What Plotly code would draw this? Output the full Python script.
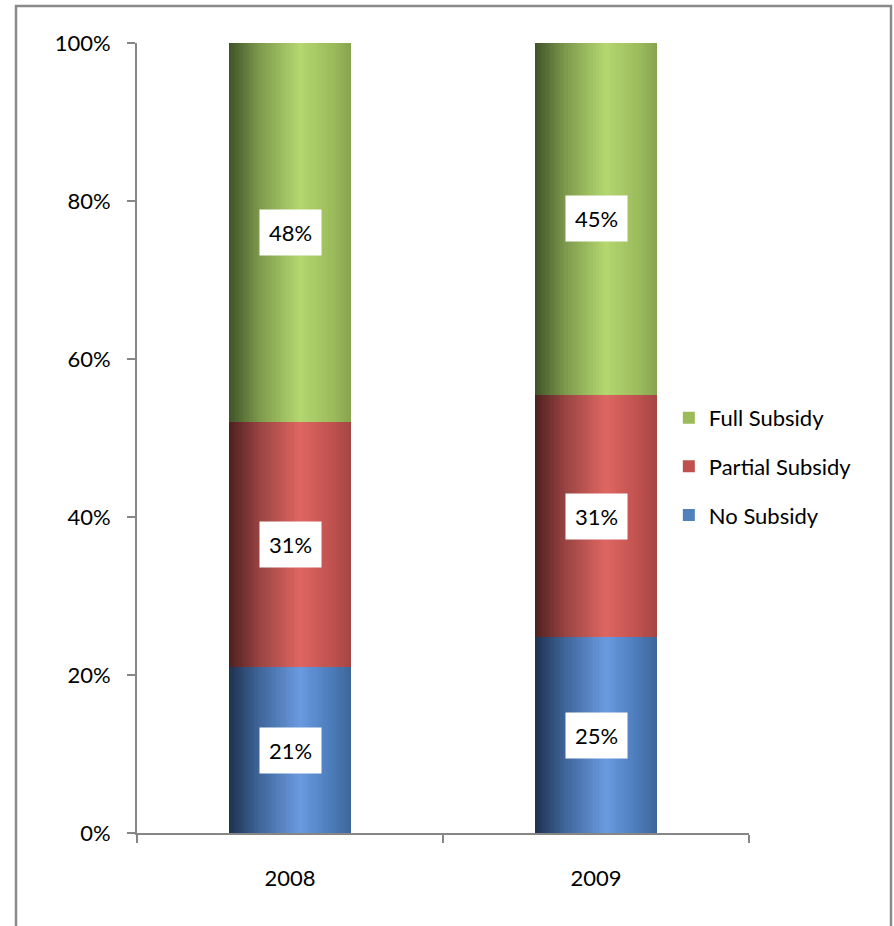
import plotly.graph_objects as go

# ---- data ----
years = ["2008", "2009"]
series_names = ["No Subsidy", "Partial Subsidy", "Full Subsidy"]
no_subsidy = [21, 25]
partial_subsidy = [31, 31]
full_subsidy = [48, 45]
y_ticks = [0, 20, 40, 60, 80, 100]
y_tick_labels = ["0%", "20%", "40%", "60%", "80%", "100%"]

series_values = [no_subsidy, partial_subsidy, full_subsidy]

# ---- styles ----
FONT = "Lato"
legend_colors = ["#4f81bd", "#c0504d", "#9bbb59"]
legend_ranks = [3, 2, 1]
gradient_stops = [
    [(0.0, "#1e3150"), (0.25, "#3f669a"), (0.58, "#6a9ae0"), (0.85, "#4a7ab8"), (1.0, "#3e6698")],
    [(0.0, "#4c1f1f"), (0.25, "#9a4442"), (0.58, "#df6662"), (0.85, "#be514e"), (1.0, "#a44542")],
    [(0.0, "#3f5229"), (0.25, "#7d9a4c"), (0.58, "#b4d770"), (0.85, "#9cbb5c"), (1.0, "#87a24f")],
]
BAR_W = 0.4
N_STRIPS = 48


def hex2rgb(h):
    h = h.lstrip("#")
    return tuple(int(h[i:i + 2], 16) for i in (0, 2, 4))


def interp(stops, t):
    for (t0, c0), (t1, c1) in zip(stops[:-1], stops[1:]):
        if t0 <= t <= t1:
            f = (t - t0) / (t1 - t0) if t1 > t0 else 0
            a, b = hex2rgb(c0), hex2rgb(c1)
            r = [round(a[k] + (b[k] - a[k]) * f) for k in range(3)]
            return f"rgb({r[0]},{r[1]},{r[2]})"
    return stops[-1][1]


xpos = list(range(len(years)))

# normalise to 100% per year
totals = [sum(v[i] for v in series_values) for i in range(len(years))]
norm = [[v[i] / totals[i] * 100 for i in range(len(years))] for v in series_values]
bases = []
cum = [0.0] * len(years)
for s in norm:
    bases.append(list(cum))
    cum = [cum[i] + s[i] for i in range(len(years))]

fig = go.Figure()

w = BAR_W / N_STRIPS
for si, name in enumerate(series_names):
    for k in range(N_STRIPS):
        t = (k + 0.5) / N_STRIPS
        off = -BAR_W / 2 + k * w
        width = w * 1.6 if k < N_STRIPS - 1 else w
        fig.add_trace(go.Bar(
            x=xpos, y=norm[si], base=bases[si],
            width=width, offset=off,
            marker=dict(color=interp(gradient_stops[si], t), line=dict(width=0)),
            showlegend=False, hoverinfo="skip",
        ))

# legend entries
for si, name in enumerate(series_names):
    fig.add_trace(go.Bar(
        x=[None], y=[None], name=name, legendrank=legend_ranks[si], legendgroup=name,
        marker=dict(color=legend_colors[si], line=dict(width=0)),
        hoverinfo="skip",
    ))

# data labels
for si in range(len(series_names)):
    for i in xpos:
        fig.add_annotation(
            x=i, y=bases[si][i] + norm[si][i] / 2,
            text=f"{series_values[si][i]}%", showarrow=False,
            font=dict(family=FONT, size=22, color="black"),
            bgcolor="white", borderpad=9,
        )

# outer frame
fig.add_shape(type="rect", xref="paper", yref="paper",
              x0=(16 - 137) / 612, x1=(891 - 137) / 612,
              y0=(833 - 940) / 790, y1=(833 - 6) / 790,
              line=dict(color="#8a8a8a", width=2.5), fillcolor="rgba(0,0,0,0)", layer="below")

fig.update_layout(
    width=894, height=926,
    margin=dict(l=137, r=145, t=43, b=93, autoexpand=False),
    paper_bgcolor="white", plot_bgcolor="white",
    barmode="overlay", bargap=0,
    font=dict(family=FONT, size=22, color="black"),
    showlegend=True,
    legend=dict(x=0.869, y=0.552, xanchor="left", yanchor="top",
                tracegroupgap=17, itemclick=False,
                font=dict(family=FONT, size=22, color="black"),
                bgcolor="rgba(0,0,0,0)"),
    xaxis=dict(range=[-0.5, len(years) - 0.5], tickvals=xpos, ticktext=years,
               showline=True, linecolor="#868686", linewidth=2,
               ticks="", showgrid=False, zeroline=False, ticklabelstandoff=25,
               minor=dict(tickvals=[i - 0.5 for i in range(len(years) + 1)],
                          ticks="outside", ticklen=8, tickcolor="#868686", tickwidth=2,
                          showgrid=False),
               tickfont=dict(family=FONT, size=22, color="black")),
    yaxis=dict(range=[0, 100], tickvals=y_ticks, ticktext=y_tick_labels,
               showline=True, linecolor="#868686", linewidth=2,
               ticks="outside", ticklen=8, tickcolor="#868686", tickwidth=2,
               showgrid=False, zeroline=False, ticklabelstandoff=12,
               tickfont=dict(family=FONT, size=22, color="black")),
)

fig.write_html("out.html", config={"displayModeBar": False},
               post_script="document.body.style.margin='0';")
